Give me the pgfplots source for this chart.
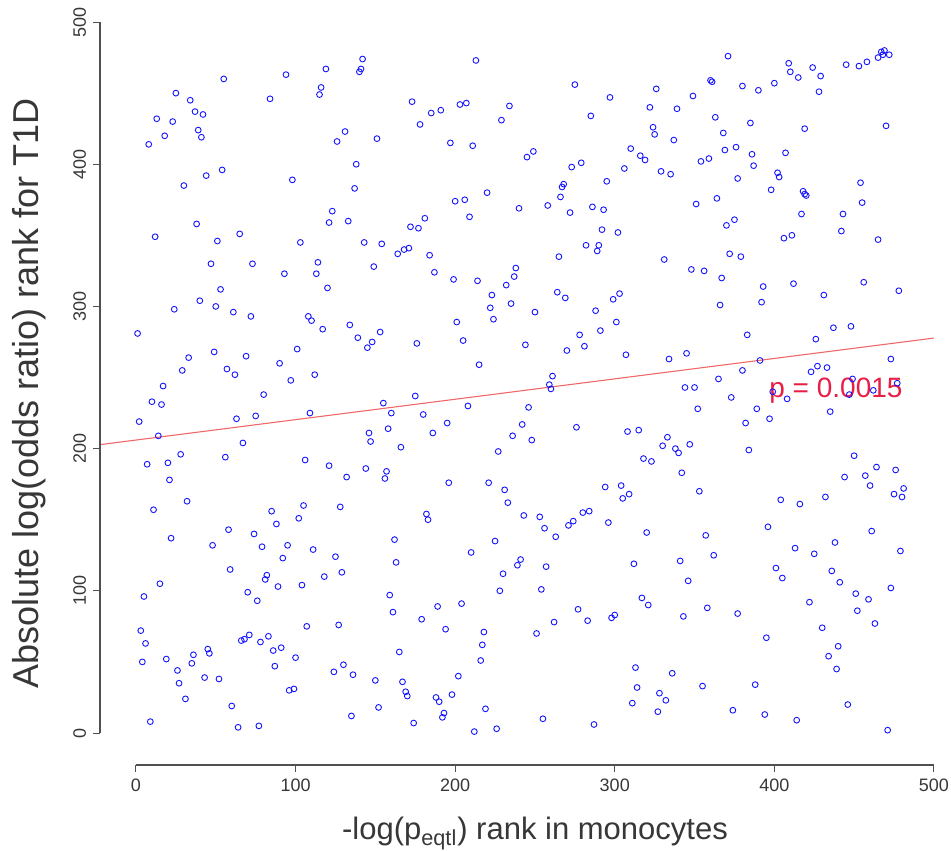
\documentclass[border=0pt]{standalone}
\usepackage{pgfplots}
\pgfplotsset{compat=1.18}
\usepackage{fontspec}
\setmainfont{Liberation Sans}
\definecolor{axgray}{RGB}{80,80,80}
\definecolor{txtgray}{RGB}{55,55,55}
\definecolor{ptblue}{RGB}{20,20,255}
\definecolor{linered}{RGB}{240,105,105}
\definecolor{ptext}{RGB}{232,30,70}
\begin{document}
\begin{tikzpicture}
\begin{axis}[
  x=0.798pt, y=0.711pt,
  xmin=-22.5, xmax=500, ymin=-22.5, ymax=500,
  clip=false,
  axis lines*=left,
  axis line style={draw=none},
  xtick={0,100,...,500}, ytick={0,100,...,500},
  tick align=outside, major tick length=3.5pt,
  tick style={draw=axgray, line width=0.5pt},
  /pgf/number format/assume math mode=true,
  ticklabel style={font=\fontsize{9}{11}\selectfont, text=txtgray},
  yticklabel style={rotate=90, anchor=south},
  xlabel={-log(p\textsubscript{eqtl}) rank in monocytes},
  ylabel={Absolute log(odds ratio) rank for T1D},
  xlabel style={at={(axis cs:250,-70.5)}, anchor=center, font=\fontsize{15.5}{18}\selectfont, text=txtgray},
  ylabel style={at={(axis cs:-67,239)}, anchor=center, font=\fontsize{18}{21}\selectfont, text=txtgray},
]
\addplot[only marks, mark=o, mark size=1.45pt, mark options={draw=ptblue, line width=0.45pt}] coordinates {
(55,460)(94,463)(119,467)(25,450)(34,445)(84,446)(116,454)(115,449)(13,432)(23,430)(37,437)(42,435)(18,420)(39,424)(41,419)(8,414)(54,396)(44,392)(30,385)(98,389)(38,358)(12,349)(51,346)(65,351)(103,345)
(142,474)(141,467)(140,465)(213,473)(173,444)(178,428)(185,436)(191,438)(203,442)(207,443)(234,441)(229,431)(131,423)(126,416)(151,418)(197,415)(211,413)(245,405)(249,409)(138,400)(137,383)(200,374)(206,375)(220,380)(240,369)(209,363)(123,367)(121,359)(133,360)(181,362)(172,356)(177,355)(143,345)(154,344)(164,337)(168,340)(171,341)(184,336)
(371,476)(275,456)(297,447)(326,453)(360,459)(361,458)(349,448)(285,434)(322,440)(339,439)(363,433)(324,426)(325,421)(337,417)(368,422)(369,410)(376,412)(310,411)(316,406)(319,403)(273,398)(279,401)(306,397)(329,395)(335,393)(354,402)(359,404)(295,388)(268,386)(267,384)(266,377)(258,371)(272,366)(286,370)(293,368)(351,372)(364,376)(377,390)(375,361)(370,357)(292,354)(302,352)(282,343)(290,343)(289,339)(265,335)(331,333)(372,337)
(409,471)(410,465)(415,461)(424,468)(429,462)(428,451)(445,470)(453,469)(458,472)(465,475)(467,479)(469,480)(468,477)(472,477)(380,455)(390,452)(400,457)(385,429)(419,425)(470,427)(386,407)(387,399)(407,408)(402,394)(403,391)(398,382)(418,381)(419,379)(420,378)(454,387)(455,373)(417,365)(443,365)(442,353)(406,348)(411,350)(465,347)(379,335)
(47,330)(73,330)(93,323)(114,331)(113,323)(120,313)(53,312)(40,304)(50,300)(24,298)(61,296)(72,293)(108,293)(110,290)(117,284)(1,281)(49,268)(33,264)(69,265)(101,270)(90,260)(29,255)(57,256)(62,252)(97,248)(112,252)(17,244)(80,238)(10,233)(16,231)(2,219)(63,221)(75,223)(109,225)(14,209)(67,204)(28,196)(7,189)(20,190)(56,194)(106,192)(121,188)(21,178)(32,163)(105,160)
(149,328)(187,324)(199,319)(214,318)(238,327)(237,321)(232,315)(223,308)(222,299)(224,291)(235,302)(250,296)(134,287)(139,278)(145,271)(148,275)(153,282)(176,274)(201,289)(205,276)(244,273)(215,259)(175,237)(155,232)(160,225)(208,230)(246,229)(180,224)(158,214)(195,218)(186,211)(146,211)(147,205)(166,201)(242,217)(236,209)(248,206)(227,198)(132,180)(144,186)(157,184)(156,179)(196,176)(221,176)(231,171)(233,162)(128,159)
(348,326)(356,325)(367,320)(366,301)(264,310)(269,306)(299,305)(303,309)(288,297)(301,289)(278,280)(291,283)(281,272)(270,269)(307,266)(334,263)(345,267)(261,251)(259,245)(260,242)(365,249)(344,243)(350,243)(373,236)(352,228)(276,215)(308,212)(315,213)(333,208)(330,202)(338,200)(340,197)(347,203)(318,193)(323,191)(342,183)(294,173)(304,174)(305,165)(309,168)(353,170)
(393,314)(392,303)(412,316)(431,308)(456,317)(478,311)(383,280)(437,285)(448,286)(426,277)(391,262)(380,255)(473,263)(423,254)(427,258)(433,257)(449,249)(399,240)(408,235)(447,238)(462,241)(477,246)(389,228)(397,221)(435,226)(382,218)(384,199)(450,195)(444,180)(457,181)(464,187)(460,174)(476,185)(475,168)(480,166)(481,172)(404,164)(416,161)(432,166)
(11,157)(85,156)(88,147)(102,151)(22,137)(48,132)(58,143)(74,140)(79,131)(95,132)(92,123)(111,129)(59,115)(15,105)(82,111)(81,108)(89,103)(104,104)(118,110)(5,96)(70,99)(76,93)(3,72)(6,63)(4,50)(107,75)(66,65)(68,66)(71,69)(78,64)(83,68)(86,58)(91,60)(100,53)(87,47)(19,52)(36,55)(35,49)(45,59)(46,56)(26,44)(27,35)(43,39)(52,38)(96,30)(99,31)(31,24)(60,19)(9,8)(64,4)(77,5)
(182,154)(183,150)(243,153)(162,136)(163,120)(125,124)(129,113)(210,127)(225,135)(241,122)(239,118)(230,112)(228,100)(159,97)(161,85)(189,89)(204,91)(179,80)(194,73)(127,76)(218,71)(217,62)(216,51)(165,57)(130,48)(124,43)(136,41)(150,37)(167,36)(169,29)(170,26)(202,40)(188,25)(190,22)(198,27)(193,14)(192,11)(135,12)(152,18)(174,7)(219,17)(212,1)(226,3)(251,70)
(253,152)(256,144)(263,138)(271,146)(274,149)(280,155)(284,156)(296,148)(320,141)(357,139)(362,125)(257,117)(254,101)(312,119)(341,121)(346,107)(317,95)(321,90)(277,87)(262,78)(283,79)(298,81)(300,83)(343,82)(358,88)(377,84)(313,46)(336,42)(314,32)(328,28)(332,23)(311,21)(327,15)(355,33)(374,16)(255,10)(287,6)
(396,145)(413,130)(425,126)(438,134)(461,142)(479,128)(401,116)(405,109)(436,114)(441,106)(451,98)(459,94)(473,102)(422,92)(452,86)(463,77)(430,74)(395,67)(440,61)(434,54)(439,45)(388,34)(446,20)(394,13)(414,9)(471,2)
};
\addplot[draw=linered, line width=0.55pt] coordinates {(-22.5,202.8) (500,277.75)};
\addplot[draw=axgray, line width=0.7pt, forget plot] coordinates {(0,-22.5) (500,-22.5)};
\addplot[draw=axgray, line width=0.7pt, forget plot] coordinates {(-22.5,0) (-22.5,500)};
\node[text=ptext, font=\fontsize{14}{16}\selectfont] at (axis cs:438.6,240.5) {p = 0.0015};
\coordinate (BL) at (axis cs:-85.2,-82.3);
\coordinate (TR) at (axis cs:510.7,515.5);
\end{axis}
\pgfresetboundingbox
\path[use as bounding box] (BL) rectangle (TR);
\end{tikzpicture}
\end{document}
